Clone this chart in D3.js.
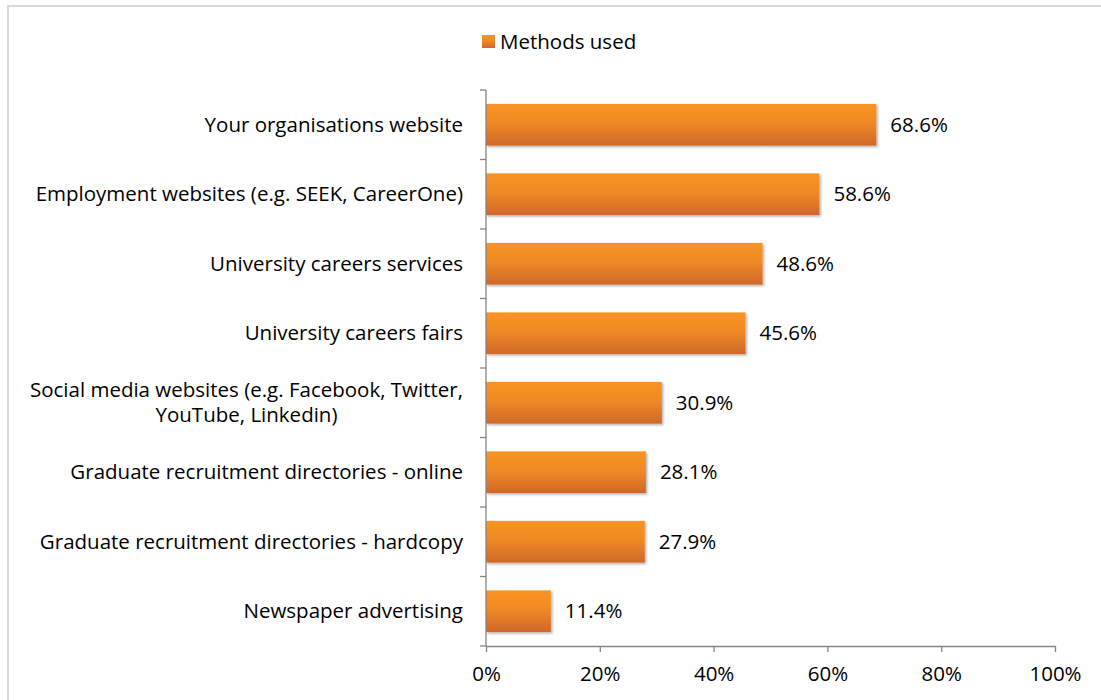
<!DOCTYPE html>
<html>
<head>
<meta charset="utf-8">
<script src="https://cdn.jsdelivr.net/npm/d3@7"></script>
<style>
  html, body { margin: 0; padding: 0; background: #fff; }
  svg { display: block; font-family: "Open Sans", sans-serif; }
</style>
</head>
<body>
<svg id="chart" width="1101" height="700"></svg>
<script>
// Recruitment methods used, share of respondents (%)
const categories = [
  "Your organisations website",
  "Employment websites (e.g. SEEK, CareerOne)",
  "University careers services",
  "University careers fairs",
  "Social media websites (e.g. Facebook, Twitter,|YouTube, Linkedin)",
  "Graduate recruitment directories - online",
  "Graduate recruitment directories - hardcopy",
  "Newspaper advertising"
];
const values = [68.6, 58.6, 48.6, 45.6, 30.9, 28.1, 27.9, 11.4];
const xTicks = [0, 20, 40, 60, 80, 100];
const seriesName = "Methods used";

const svg = d3.select("#chart");
const W = 1101, H = 700;
const margin = { top: 90, right: 46, bottom: 54, left: 486 };
const FONT = 20.5;

// Outer chart frame
svg.append("rect")
  .attr("x", 8).attr("y", 6)
  .attr("width", W + 10).attr("height", H + 10)
  .attr("fill", "#fff")
  .attr("stroke", "#d9d9d9").attr("stroke-width", 2);

const defs = svg.append("defs");
const grad = defs.append("linearGradient")
  .attr("id", "barFill").attr("x1", 0).attr("y1", 0).attr("x2", 0).attr("y2", 1);
grad.append("stop").attr("offset", "0%").attr("stop-color", "#f89422");
grad.append("stop").attr("offset", "45%").attr("stop-color", "#f08a25");
grad.append("stop").attr("offset", "100%").attr("stop-color", "#cf672a");

const shadow = defs.append("filter").attr("id", "barShadow")
  .attr("x", "-5%").attr("y", "-20%").attr("width", "115%").attr("height", "150%");
shadow.append("feDropShadow")
  .attr("dx", 1.5).attr("dy", 1.5).attr("stdDeviation", 1.2)
  .attr("flood-color", "#000").attr("flood-opacity", 0.3);

const x = d3.scaleLinear().domain([0, 100]).range([margin.left, W - margin.right]);
const y = d3.scaleBand().domain(categories).range([margin.top, H - margin.bottom])
  .paddingInner(0.4).paddingOuter(0.2);
const yEdge = d3.scaleLinear().domain([0, categories.length])
  .range([margin.top, H - margin.bottom]);

const axisColor = "#868686";

// Bars
svg.append("g").selectAll("rect")
  .data(values)
  .join("rect")
  .attr("x", x(0))
  .attr("y", (d, i) => y(categories[i]))
  .attr("width", d => x(d) - x(0))
  .attr("height", y.bandwidth())
  .attr("fill", "url(#barFill)")
  .attr("filter", "url(#barShadow)");

// Value labels
svg.append("g").selectAll("text")
  .data(values)
  .join("text")
  .attr("x", d => x(d) + 14)
  .attr("y", (d, i) => y(categories[i]) + y.bandwidth() / 2)
  .attr("dy", "0.35em")
  .attr("font-size", FONT)
  .attr("fill", "#000")
  .text(d => d.toFixed(1) + "%");

// Y axis line and band ticks
const yAxisG = svg.append("g");
yAxisG.append("line")
  .attr("x1", x(0)).attr("x2", x(0))
  .attr("y1", yEdge(0)).attr("y2", yEdge(categories.length))
  .attr("stroke", axisColor).attr("stroke-width", 1.3);
yAxisG.selectAll("line.tick")
  .data(d3.range(categories.length + 1))
  .join("line").attr("class", "tick")
  .attr("x1", x(0) - 6).attr("x2", x(0))
  .attr("y1", d => yEdge(d)).attr("y2", d => yEdge(d))
  .attr("stroke", axisColor).attr("stroke-width", 1.3);

// Category labels (right-aligned; wrapped labels have a centred second line)
const labelRight = 463;
const catLabels = svg.append("g").selectAll("text")
  .data(categories)
  .join("text")
  .attr("text-anchor", "end")
  .attr("font-size", FONT)
  .attr("fill", "#000");
catLabels.each(function (d) {
  const lines = d.split("|");
  const cy = y(d) + y.bandwidth() / 2;
  const lh = 25;
  const t = d3.select(this);
  lines.forEach((ln, k) => {
    t.append("tspan")
      .attr("x", labelRight)
      .attr("y", cy + (k - (lines.length - 1) / 2) * lh)
      .attr("dy", "0.35em")
      .text(ln);
  });
});
catLabels.filter(d => d.includes("|")).each(function () {
  const tspans = d3.select(this).selectAll("tspan").nodes();
  const w0 = tspans[0].getComputedTextLength();
  d3.select(tspans[1]).attr("x", labelRight - w0 / 2).attr("text-anchor", "middle");
});

// X axis
const xAxis = d3.axisBottom(x)
  .tickValues(xTicks)
  .tickFormat(d => d + "%")
  .tickSize(6)
  .tickSizeOuter(0);
const xg = svg.append("g")
  .attr("transform", `translate(0,${H - margin.bottom})`)
  .call(xAxis);
xg.select(".domain").attr("stroke", axisColor).attr("stroke-width", 1.3);
xg.selectAll(".tick line").attr("stroke", axisColor).attr("stroke-width", 1.3);
xg.selectAll(".tick text")
  .attr("font-size", FONT).attr("fill", "#000")
  .attr("font-family", "'Open Sans', sans-serif")
  .attr("y", 28).attr("dy", "0.35em");

// Legend
const legend = svg.append("g").attr("transform", "translate(482,35)");
legend.append("rect").attr("width", 13).attr("height", 13).attr("fill", "url(#barFill)");
legend.append("text")
  .attr("x", 18).attr("y", 7).attr("dy", "0.35em")
  .attr("font-size", FONT).attr("fill", "#000")
  .text(seriesName);
</script>
</body>
</html>
